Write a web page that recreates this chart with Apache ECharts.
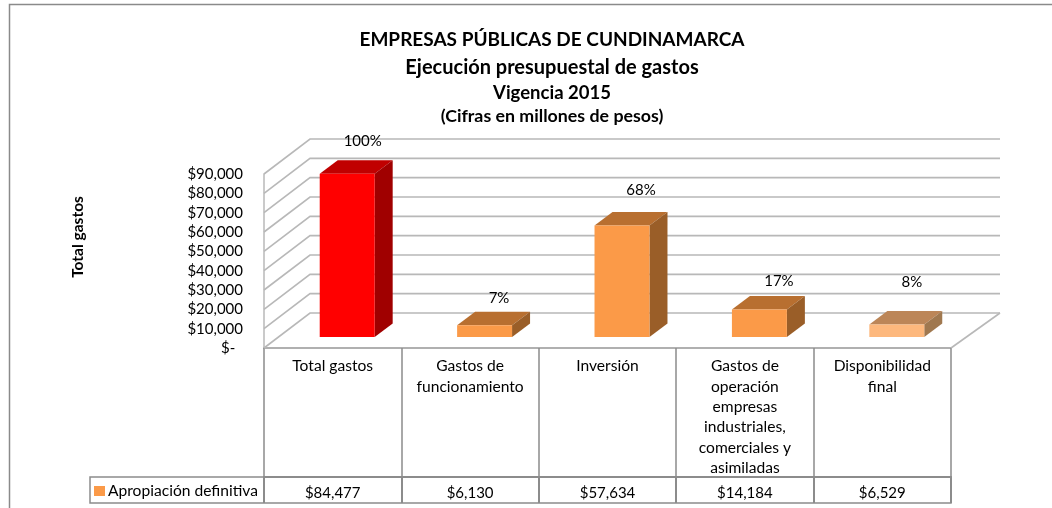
<!DOCTYPE html>
<html><head><meta charset="utf-8">
<style>html,body{margin:0;padding:0;background:#fff}#c{width:1052px;height:508px}</style>
<script src="https://cdn.jsdelivr.net/npm/echarts@6/dist/echarts.min.js"></script>
</head><body><div id="c"></div>
<script>
const categories = ['Total gastos','Gastos de\nfuncionamiento','Inversión','Gastos de\noperación\nempresas\nindustriales,\ncomerciales y\nasimiladas','Disponibilidad\nfinal'];
const values = [84477, 6130, 57634, 14184, 6529];
const percents = ['100%','7%','68%','17%','8%'];
const yTicks = [0,10000,20000,30000,40000,50000,60000,70000,80000,90000];
const seriesName = 'Apropiación definitiva';
const titleLines = ['EMPRESAS PÚBLICAS DE CUNDINAMARCA','Ejecución presupuestal de gastos','Vigencia 2015','(Cifras en millones de pesos)'];

// styling, kept apart from the data
const FONT = 'Lato';
const ORANGE = ['#FB9A48','#B86F30','#9A5E28'];
const barShades = [['#FF0000','#C00000','#A00000'],ORANGE,ORANGE,ORANGE,['#FDB87D','#BC8658','#A0784F']];
const labelShift = [[15.5,-33],[14.4,-27],[19,-35.6],[19.5,-28.6],[15,-42]];
const DEPTH = [46,-35], BAR_FRONT = [14.5,-11], BAR_DEPTH = [18,-13.5];
const GRID = '#B8B8B8', TABLE = '#8C8C8C';
const money = v => '$' + v.toLocaleString('en-US');
const titleStyle = [[40,19],[68,20],[93,18.5],[116,17.8]];

const chart = echarts.init(document.getElementById('c'));
chart.setOption({
  animation:false,
  backgroundColor:'#fff',
  title: titleLines.map((t,i)=>({text:t,left:552,top:titleStyle[i][0],padding:0,textAlign:'center',textVerticalAlign:'middle',
    textStyle:{fontFamily:FONT,fontWeight:'bold',fontSize:titleStyle[i][1],color:'#000'}})),
  legend:{data:[seriesName],left:90,top:481,itemWidth:11,itemHeight:10,itemGap:0,icon:'rect',padding:[2,4],
    textStyle:{fontFamily:FONT,fontSize:15.6,color:'#000',padding:[0,0,0,-2]}},
  grid:{left:264,width:687,top:174,height:174},
  xAxis:[
    {type:'category',data:categories,position:'bottom',
     axisLine:{lineStyle:{color:'#B0B0B0',width:2}},
     axisTick:{show:true,length:129,lineStyle:{color:TABLE,width:1.5}},
     axisLabel:{interval:0,margin:8,fontFamily:FONT,fontSize:15.6,color:'#000',lineHeight:20.4,verticalAlign:'top'}},
    {type:'category',data:values.map(money),position:'bottom',offset:129,
     axisLine:{lineStyle:{color:TABLE,width:2}},
     axisTick:{show:true,length:26,lineStyle:{color:TABLE,width:2}},
     axisLabel:{interval:0,margin:6,fontFamily:FONT,fontSize:15,color:'#000',lineHeight:20,verticalAlign:'top'}}
  ],
  yAxis:{type:'value',min:0,max:90000,interval:10000,
    name:'Total gastos',nameLocation:'middle',nameGap:178,nameRotate:90,
    nameTextStyle:{fontFamily:FONT,fontWeight:'bold',fontSize:15.5,color:'#000',padding:[0,0,0,48]},
    axisLine:{show:true,lineStyle:{color:GRID,width:1.5}},axisTick:{show:false},splitLine:{show:false},
    axisLabel:{margin:21,fontFamily:FONT,fontSize:15,color:'#000',padding:[8,0,0,0],
      formatter:v=>v===0?'$-  ':money(v)}},
  series:[
    {type:'custom',name:'walls',silent:true,clip:false,z:1,
     data:yTicks.map(v=>[0,v]),encode:{x:0,y:1},
     renderItem(params,api){
       const cs=params.coordSys, y=api.coord([0,api.value(1)])[1];
       const x0=cs.x, x1=cs.x+cs.width;
       const kids=[{type:'polyline',shape:{points:[[x0,y],[x0+DEPTH[0],y+DEPTH[1]],[x1+DEPTH[0]+3,y+DEPTH[1]]]},
         style:{stroke:GRID,lineWidth:1.6,fill:null}}];
       if(api.value(1)===0) kids.push({type:'line',shape:{x1:x1,y1:y,x2:x1+DEPTH[0]+3,y2:y+DEPTH[1]},style:{stroke:GRID,lineWidth:1.6}});
       return {type:'group',children:kids};
     }},
    {type:'custom',name:seriesName,clip:false,z:3,
     itemStyle:{color:ORANGE[0]},
     data:values.map((v,i)=>[i,v]),encode:{x:0,y:1},
     renderItem(params,api){
       const i=params.dataIndex, c=barShades[i];
       const top=api.coord([i,api.value(1)]), base=api.coord([i,0]);
       const w=api.size([1,0])[0]*0.4;
       const xl=top[0]-w/2+BAR_FRONT[0], xr=xl+w;
       const yt=top[1]+BAR_FRONT[1], yb=base[1]+BAR_FRONT[1];
       const dx=BAR_DEPTH[0], dy=BAR_DEPTH[1];
       return {type:'group',children:[
         {type:'polygon',shape:{points:[[xl,yt],[xr,yt],[xr+dx,yt+dy],[xl+dx,yt+dy]]},style:{fill:c[1]}},
         {type:'polygon',shape:{points:[[xr,yt],[xr+dx,yt+dy],[xr+dx,yb+dy],[xr,yb]]},style:{fill:c[2]}},
         {type:'rect',shape:{x:xl,y:yt,width:w,height:yb-yt},style:{fill:c[0]}},
         {type:'text',style:{text:percents[i],x:xl+w/2+labelShift[i][0],y:yt+labelShift[i][1],
           textAlign:'center',textVerticalAlign:'middle',fontFamily:FONT,fontSize:15,fill:'#000'}}
       ]};
     }}
  ],
  graphic:[
    {type:'polyline',shape:{points:[[9.5,508],[9.5,4.5],[1052,4.5]]},style:{stroke:'#8A8A8A',lineWidth:1.5,fill:null},silent:true},
    {type:'rect',shape:{x:90,y:477,width:861,height:26},style:{stroke:TABLE,lineWidth:1.5,fill:null},silent:true}
  ]
});
</script></body></html>
